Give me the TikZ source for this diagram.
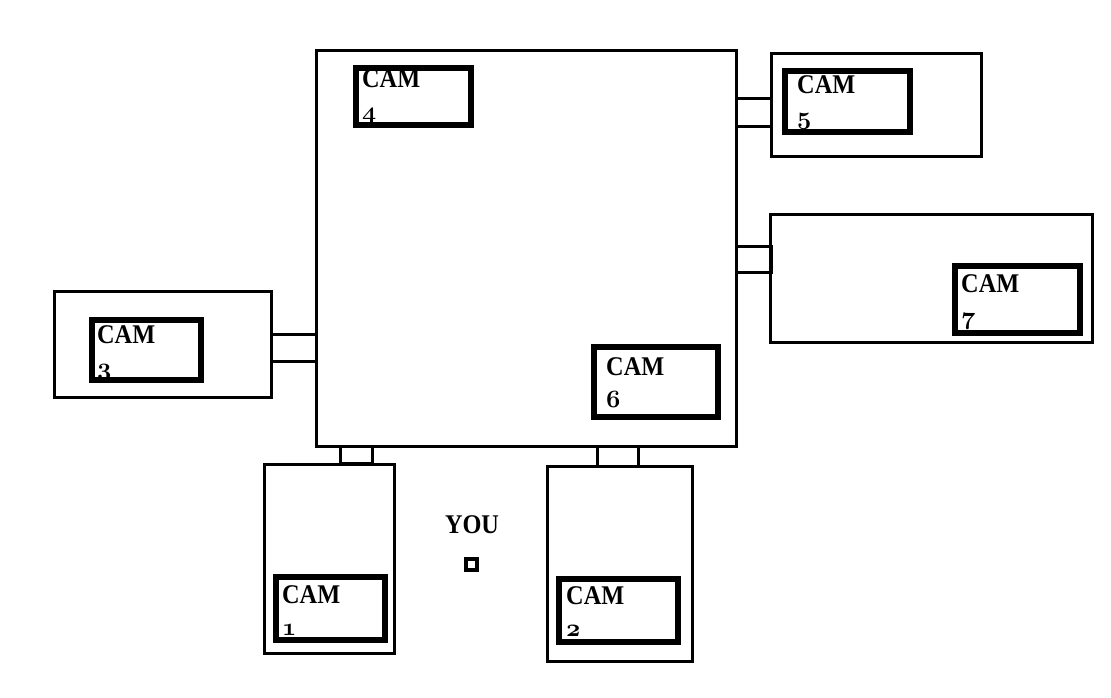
\documentclass[tikz,border=0pt]{standalone}
\usepackage{fontspec}
\setmainfont{Liberation Serif}
\newfontfamily\camfont{Liberation Serif}[FakeStretch=0.9]
\newcommand\camnum[1]{{\fontsize{31}{32}\usefont{OML}{cmm}{b}{it}#1}}
\usetikzlibrary{positioning}

\tikzset{
  room/.style={line width=3pt},
  door/.style={line width=3pt},
  cambox/.style={line width=6pt},
  % base of a two line node is the base of its last line
  camlabel/.style={anchor=base west, inner sep=0pt, align=left,
    font=\fontsize{27}{32}\camfont\bfseries}
}

\begin{document}
\begin{tikzpicture}[x=1pt,y=-1pt]
  \useasboundingbox (0,0) rectangle (1111,698);
  % rooms
  \draw[room] (316,51)  rectangle (736,446);
  \draw[room] (771,54)  rectangle (981,157);
  \draw[room] (770,214) rectangle (1092,342);
  \draw[room] (54,291)  rectangle (271,397);
  \draw[room] (264,464) rectangle (394,653);
  \draw[room] (547,466) rectangle (692,661);
  % doors between the rooms
  \draw[door] (736,99)  rectangle (771,127);
  \draw[door] (736,246) rectangle (771,272);
  \draw[door] (271,334) rectangle (316,361);
  \draw[door] (340,446) rectangle (372,463);
  \draw[door] (597,446) rectangle (638,466);
  % camera labels, boxes drawn over them
  \node[camlabel] (cam4) at (362,120) {CAM\\\camnum{4}};
  \node[camlabel] (cam5) at (797,125) {CAM\\\camnum{5}};
  \node[camlabel] (cam7) at (961,324) {CAM\\\camnum{7}};
  \node[camlabel] (cam3) at (97,375)  {CAM\\\camnum{3}};
  \node[camlabel] (cam6) at (606,407) {CAM\\\camnum{6}};
  \node[camlabel] (cam1) at (282,635) {CAM\\\camnum{1}};
  \node[camlabel] (cam2) at (566,636) {CAM\\\camnum{2}};
  \draw[cambox] (356,68)  rectangle (471,125);
  \draw[cambox] (785,71)  rectangle (910,132);
  \draw[cambox] (955,266) rectangle (1080,333);
  \draw[cambox] (92,320)  rectangle (201,380);
  \draw[cambox] (594,347) rectangle (718,417);
  \draw[cambox] (276,577) rectangle (385,640);
  \draw[cambox] (559,579) rectangle (678,642);
  % the player
  \node[draw, line width=4pt, minimum size=11pt, inner sep=0pt] (you) at (471.5,564) {};
  \node[anchor=base, inner sep=0pt, font=\fontsize{27}{32}\camfont\bfseries]
    (youlabel) at (472,533) {YOU};
\end{tikzpicture}
\end{document}
